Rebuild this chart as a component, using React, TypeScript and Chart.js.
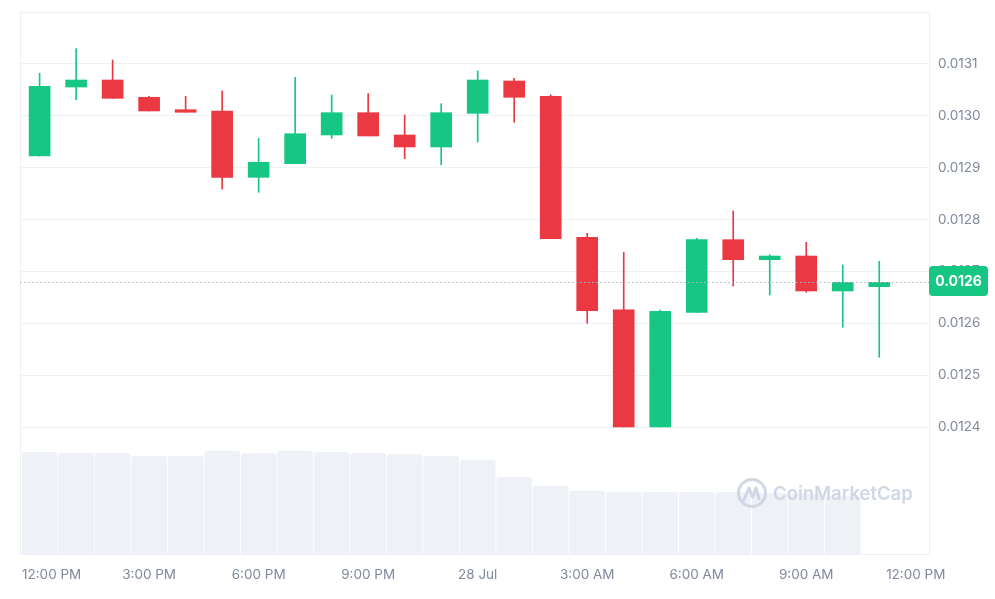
import React, { useEffect, useRef } from 'react';
import { Chart, registerables } from 'chart.js';

Chart.register(...registerables);

// Hourly candles: index 0 = 12:00 PM (27 Jul) ... index 23 = 11:00 AM (28 Jul)
const hours = [0, 1, 2, 3, 4, 5, 6, 7, 8, 9, 10, 11, 12, 13, 14, 15, 16, 17, 18, 19, 20, 21, 22, 23];
const opens = [0.0129224, 0.0130554, 0.0130689, 0.0130356, 0.0130117, 0.0130092, 0.0128813, 0.0129076, 0.0129629, 0.0130059, 0.0129629, 0.0129398, 0.0130047, 0.0130670, 0.0130375, 0.0127657, 0.0126261, 0.0124000, 0.0126211, 0.0127611, 0.0127225, 0.0127296, 0.0126622, 0.0126705];
const highs = [0.0130818, 0.0131293, 0.0131075, 0.0130375, 0.0130375, 0.0130477, 0.0129565, 0.0130741, 0.0130400, 0.0130425, 0.0130014, 0.0130232, 0.0130863, 0.0130722, 0.0130406, 0.0127734, 0.0127368, 0.0126255, 0.0127638, 0.0128164, 0.0127321, 0.0127560, 0.0127123, 0.0127194];
const lows = [0.0129224, 0.0130309, 0.0130336, 0.0130092, 0.0130067, 0.0128588, 0.0128524, 0.0129076, 0.0129565, 0.0129610, 0.0129172, 0.0129056, 0.0129494, 0.0129874, 0.0127630, 0.0125999, 0.0124000, 0.0124000, 0.0126211, 0.0126718, 0.0126545, 0.0126597, 0.0125922, 0.0125344];
const closes = [0.0130568, 0.0130689, 0.0130336, 0.0130092, 0.0130067, 0.0128813, 0.0129103, 0.0129654, 0.0130059, 0.0129610, 0.0129398, 0.0130059, 0.0130689, 0.0130356, 0.0127630, 0.0126242, 0.0124000, 0.0126230, 0.0127611, 0.0127225, 0.0127296, 0.0126622, 0.0126789, 0.0126789];
// Volume (millions, relative) for the first 23 hours; current hour has none shown
const volumes = [10.17, 10.07, 10.07, 9.80, 9.80, 10.30, 10.03, 10.30, 10.17, 10.07, 9.93, 9.80, 9.40, 7.67, 6.80, 6.30, 6.20, 6.17, 6.17, 6.17, 6.07, 6.00, 5.73];

const priceTicks = [0.0124, 0.0125, 0.0126, 0.0127, 0.0128, 0.0129, 0.013, 0.0131];
const xTickHours = [0, 3, 6, 9, 12, 15, 18, 21, 24];
const xTickLabels = ['12:00 PM', '3:00 PM', '6:00 PM', '9:00 PM', '28 Jul', '3:00 AM', '6:00 AM', '9:00 AM', '12:00 PM'];

const UP = '#16c784';
const DOWN = '#ea3943';
const TEXT = '#808a9d';
const GRID = '#eff2f5';
const FONT = 'Inter, "Noto Sans", sans-serif';

const priceMin = 0.0124;
const priceMax = 0.0132;
const volPaneRatio = 127 / 415; // extra room below the price pane for volume
const volMax = 54.2;

const overlayPlugin = {
  id: 'cmcOverlay',
  afterDatasetsDraw(chart: any) {
    const { ctx, chartArea } = chart;
    // watermark
    ctx.save();
    const cx = chartArea.right - 178;
    const cy = chartArea.bottom - 61;
    ctx.strokeStyle = 'rgba(205,213,227,0.95)';
    ctx.lineWidth = 3;
    ctx.lineCap = 'round';
    ctx.lineJoin = 'round';
    ctx.beginPath();
    ctx.arc(cx, cy, 13.5, 0, Math.PI * 2);
    ctx.stroke();
    ctx.beginPath();
    ctx.moveTo(cx - 8, cy + 7);
    ctx.lineTo(cx - 3, cy - 5);
    ctx.lineTo(cx + 0.5, cy + 4);
    ctx.lineTo(cx + 4, cy - 5);
    ctx.lineTo(cx + 7, cy + 6);
    ctx.stroke();
    ctx.fillStyle = 'rgba(205,213,227,0.95)';
    ctx.font = `600 18.5px ${FONT}`;
    ctx.textAlign = 'left';
    ctx.textBaseline = 'middle';
    ctx.fillText('CoinMarketCap', cx + 21, cy + 1);
    ctx.restore();
  },
  afterDraw(chart: any) {
    const { ctx, chartArea, scales } = chart;
    ctx.save();
    // frame
    ctx.strokeStyle = '#eceff3';
    ctx.lineWidth = 1;
    ctx.strokeRect(Math.round(chartArea.left) + 0.5, Math.round(chartArea.top) + 0.5,
      Math.round(chartArea.right - chartArea.left) - 1, Math.round(chartArea.bottom - chartArea.top));

    // x labels
    ctx.fillStyle = TEXT;
    ctx.font = `13.5px ${FONT}`;
    ctx.textAlign = 'center';
    ctx.textBaseline = 'middle';
    xTickHours.forEach((h, i) => {
      const label = xTickLabels[i];
      const w = ctx.measureText(label).width;
      let px = scales.x.getPixelForValue(h);
      if (px - w / 2 < chartArea.left + 2) px = chartArea.left + 2 + w / 2;
      ctx.fillText(label, px, chartArea.bottom + 21);
    });

    // current price line
    const last = closes[closes.length - 1];
    const py = Math.round(scales.y.getPixelForValue(last)) + 0.5;
    ctx.strokeStyle = '#aeb5c2';
    ctx.setLineDash([1.5, 2.5]);
    ctx.beginPath();
    ctx.moveTo(chartArea.left, py);
    ctx.lineTo(chartArea.right, py);
    ctx.stroke();
    ctx.setLineDash([]);

    // price badge
    const label = (Math.floor(last * 1e4) / 1e4).toFixed(4);
    const bx = chartArea.right - 1;
    const bw = 59;
    const bh = 30;
    const by = py - 16.5;
    ctx.fillStyle = UP;
    ctx.beginPath();
    (ctx as any).roundRect(bx, by, bw, bh, 4);
    ctx.fill();
    ctx.fillStyle = '#ffffff';
    ctx.font = `bold 14px ${FONT}`;
    ctx.textAlign = 'center';
    ctx.fillText(label, bx + bw / 2, by + bh / 2 + 0.5);
    ctx.restore();
  },
};

export default function App() {
  const ref = useRef<HTMLCanvasElement | null>(null);

  useEffect(() => {
    if (!ref.current) return;
    const colors = hours.map((_, i) => (closes[i] >= opens[i] ? UP : DOWN));
    const chart = new Chart(ref.current, {
      type: 'bar',
      data: {
        datasets: [
          {
            label: 'Body',
            data: hours.map((h, i) => ({ x: h, y: [opens[i], closes[i]] })) as any,
            backgroundColor: colors,
            borderWidth: 0,
            barThickness: 21,
            grouped: false,
            yAxisID: 'y',
            order: 0,
          } as any,
          {
            label: 'Wick',
            data: hours.map((h, i) => ({ x: h, y: [lows[i], highs[i]] })) as any,
            backgroundColor: colors,
            borderWidth: 0,
            barThickness: 1,
            grouped: false,
            yAxisID: 'y',
            order: 1,
          } as any,
          {
            label: 'Volume',
            data: volumes.map((v, i) => ({ x: hours[i], y: v })) as any,
            backgroundColor: '#eef1f5',
            borderWidth: 0,
            borderRadius: { topLeft: 3, topRight: 3 },
            borderSkipped: 'bottom',
            barThickness: 35,
            grouped: false,
            yAxisID: 'yV',
            order: 2,
          } as any,
        ],
      },
      options: {
        animation: false,
        responsive: true,
        maintainAspectRatio: false,
        layout: { padding: { left: 20, top: 12, right: 0, bottom: 0 } },
        plugins: { legend: { display: false }, tooltip: { enabled: false } },
        scales: {
          x: {
            type: 'linear',
            min: -0.537,
            max: 24.39,
            offset: false,
            grid: { display: false, offset: false },
            border: { display: false },
            ticks: { display: false },
            afterFit: (s: any) => { s.height = 45; s.paddingLeft = 0; s.paddingRight = 0; },
          },
          y: {
            type: 'linear',
            position: 'right',
            min: priceMin - (priceMax - priceMin) * volPaneRatio,
            max: priceMax,
            beginAtZero: false,
            grid: { color: GRID, drawTicks: false },
            border: { display: false },
            afterBuildTicks: (s: any) => { s.ticks = priceTicks.map((v) => ({ value: v })); },
            ticks: {
              padding: 8,
              color: TEXT,
              font: { family: FONT, size: 13.5 },
              callback: (v: any) => Number(v).toFixed(4),
            },
            afterFit: (s: any) => { s.width = 65; s.paddingTop = 0; s.paddingBottom = 0; },
          },
          yV: {
            type: 'linear',
            display: false,
            min: 0,
            max: volMax,
          },
        },
      },
      plugins: [overlayPlugin],
    });
    return () => chart.destroy();
  }, []);

  return (
    <div style={{ position: 'absolute', left: 0, top: 0, width: 995, height: 599, background: '#fff' }}>
      <canvas ref={ref} />
    </div>
  );
}
